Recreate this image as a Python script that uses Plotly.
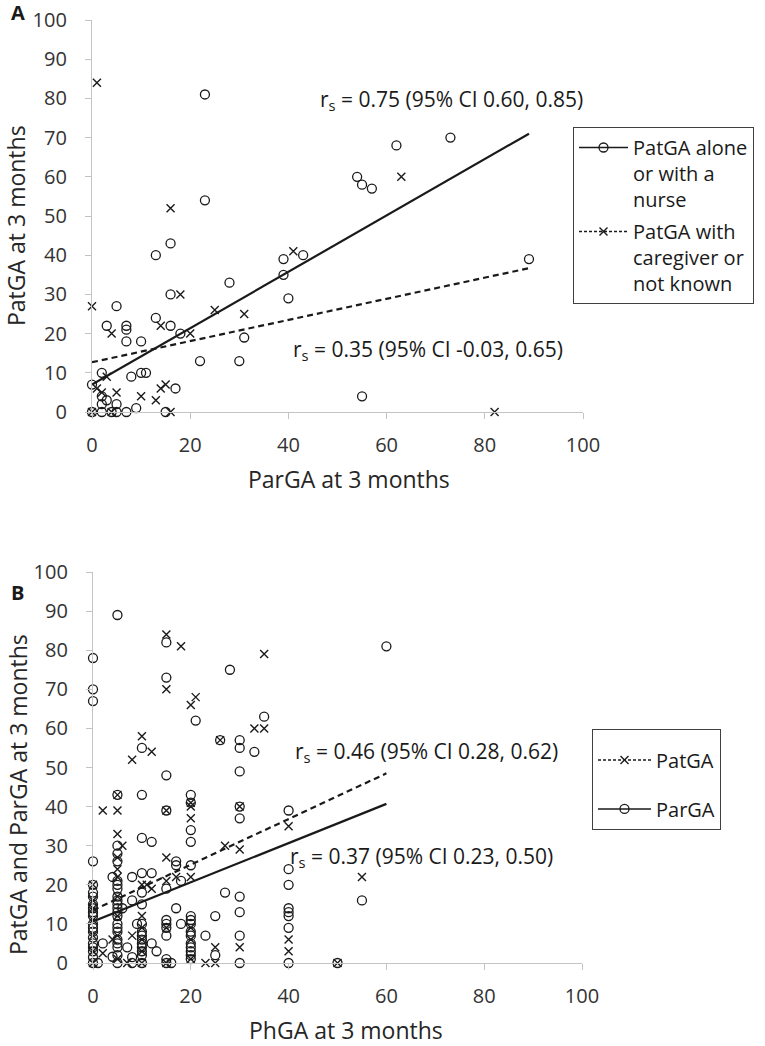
import plotly.graph_objects as go

W, H = 765, 1046

# ---------------- Panel A data (x = ParGA, y = PatGA) ----------------
a_nurse_x = [23, 23, 16, 13, 39, 43, 39, 40, 28, 16, 5, 13, 16, 3, 7, 7, 7, 10, 18, 31,
             22, 30, 2, 8, 10, 11, 0, 2, 2, 3, 5, 17, 9, 0, 2, 4, 5, 7, 15,
             73, 62, 54, 55, 57, 89, 55]
a_nurse_y = [81, 54, 43, 40, 39, 40, 35, 29, 33, 30, 27, 24, 22, 22, 22, 21, 18, 18, 20, 19,
             13, 13, 10, 9, 10, 10, 7, 4, 2, 3, 2, 6, 1, 0, 0, 0, 0, 0, 0,
             70, 68, 60, 58, 57, 39, 4]
a_care_x = [1, 16, 41, 18, 0, 25, 31, 14, 4, 20, 3, 1, 2, 5, 10, 13, 14, 15, 16, 63, 82, 0, 4]
a_care_y = [84, 52, 41, 30, 27, 26, 25, 22, 20, 20, 9, 6, 5, 5, 4, 3, 6, 7, 0, 60, 0, 0, 0]
a_fit_nurse_x = [0, 89]
a_fit_nurse_y = [7, 71]
a_fit_care_x = [0, 89]
a_fit_care_y = [12.7, 36.7]

# ---------------- Panel B data (x = PhGA) ----------------
b_par_x = [0, 0, 0, 0, 0, 0, 0, 0, 0, 0, 0, 0, 0, 0, 0, 0, 0, 0, 0, 0,
           1, 2, 4, 4,
           5, 5, 5, 5, 5, 5, 5, 5, 5, 5, 5, 5, 5, 5, 5, 5, 5, 5, 5, 5, 5, 5,
           6, 7, 8, 8, 8, 8, 9,
           10, 10, 10, 10, 10, 10, 10, 10, 10, 10, 10, 10, 10, 10, 10,
           12, 12, 12, 13,
           15, 15, 15, 15, 15, 15, 15, 15, 15, 15, 15,
           16, 17, 17, 17, 18, 18,
           20, 20, 20, 20, 20, 20, 20, 20, 20, 20, 20, 20, 20, 20, 20,
           21, 23, 25, 25, 26, 27, 28,
           30, 30, 30, 30, 30, 30, 30, 30, 30,
           33, 35,
           40, 40, 40, 40, 40, 40, 40, 40,
           50, 55, 60]
b_par_y = [78, 70, 67, 26, 20, 18, 17, 15, 14, 13, 12, 10, 9, 8, 6.5, 5, 4, 3, 1.5, 0,
           0, 5, 22, 1.6,
           89, 43, 30, 28, 26, 21, 20, 19, 17, 16, 15, 14, 13, 12, 10, 9, 8, 6, 5, 4, 2, 0,
           14, 4, 22, 16, 1.5, 0, 10,
           55, 43, 32, 23, 18, 15, 10, 8, 7, 6, 5, 4, 3, 2, 0,
           31, 23, 5, 3,
           82, 73, 48, 39, 19, 11, 10, 9, 7, 1, 0,
           0, 26, 25, 14, 21, 10,
           43, 41, 34, 31, 25, 12, 11, 10, 8, 7, 5, 4, 3, 2, 1,
           62, 7, 12, 2, 57, 18, 75,
           57, 55, 49, 40, 37, 17, 13, 7, 0,
           54, 63,
           39, 24, 20, 14, 13, 12, 9, 0,
           0, 16, 81]
b_pat_x = [0, 0, 0, 0, 0, 0, 0,
           2, 2, 4,
           5, 5, 5, 5, 5, 5, 5, 5, 5, 5,
           6, 7, 8, 8,
           10, 10, 10, 10, 10, 10, 10,
           11, 12, 12,
           15, 15, 15, 15, 15, 15, 15,
           17, 18,
           20, 20, 20, 20, 20, 20, 20, 20,
           21, 23, 25, 25, 26, 27,
           30, 30, 30,
           33, 35, 35, 40, 40, 40, 50, 55]
b_pat_y = [20, 16, 14, 11, 7, 3, 0,
           39, 2.5, 6,
           43, 39, 33, 27, 24, 22, 17, 12, 7, 1,
           30, 0, 52, 7,
           58, 20, 12, 9, 6, 3, 0,
           20, 54, 19,
           84, 70, 39, 27, 21, 9, 0,
           22, 81,
           66, 41, 40, 37, 22, 9, 6, 1,
           68, 0, 4, 0, 57, 30,
           40, 29, 4,
           60, 79, 60, 35, 6, 3, 0, 22]
b_fit_pat_x = [0, 60]
b_fit_pat_y = [13.5, 48.5]
b_fit_par_x = [0, 60]
b_fit_par_y = [10.6, 40.7]

y_ticks = [0, 10, 20, 30, 40, 50, 60, 70, 80, 90, 100]
x_ticks = [0, 20, 40, 60, 80, 100]

FONT = "Open Sans"
BLACK = "#1a1a1a"
circ = dict(symbol="circle-open", size=9, color=BLACK, line=dict(width=1.3, color=BLACK))
cross = dict(symbol="x-thin-open", size=8, color=BLACK, line=dict(width=1.4, color=BLACK))

fig = go.Figure()

# Panel A
fig.add_trace(go.Scatter(x=a_nurse_x, y=a_nurse_y, mode="markers", marker=circ,
                         xaxis="x", yaxis="y", showlegend=False, cliponaxis=False))
fig.add_trace(go.Scatter(x=a_care_x, y=a_care_y, mode="markers", marker=cross,
                         xaxis="x", yaxis="y", showlegend=False, cliponaxis=False))
fig.add_trace(go.Scatter(x=a_fit_nurse_x, y=a_fit_nurse_y, mode="lines",
                         line=dict(color=BLACK, width=2.2), xaxis="x", yaxis="y", showlegend=False))
fig.add_trace(go.Scatter(x=a_fit_care_x, y=a_fit_care_y, mode="lines",
                         line=dict(color=BLACK, width=2.2, dash="6px,4px"), xaxis="x", yaxis="y",
                         showlegend=False))
# legend entries A
fig.add_trace(go.Scatter(x=[None], y=[None], mode="lines+markers", marker=circ,
                         line=dict(color=BLACK, width=1.5), name="PatGA alone<br>or with a<br>nurse",
                         legend="legend", legendgroup="a1", xaxis="x", yaxis="y"))
fig.add_trace(go.Scatter(x=[None], y=[None], mode="lines+markers", marker=cross,
                         line=dict(color=BLACK, width=1.5, dash="3px,2px"),
                         name="PatGA with<br>caregiver or<br>not known",
                         legend="legend", legendgroup="a2", xaxis="x", yaxis="y"))

# Panel B
fig.add_trace(go.Scatter(x=b_par_x, y=b_par_y, mode="markers", marker=circ,
                         xaxis="x2", yaxis="y2", showlegend=False, cliponaxis=False))
fig.add_trace(go.Scatter(x=b_pat_x, y=b_pat_y, mode="markers", marker=cross,
                         xaxis="x2", yaxis="y2", showlegend=False, cliponaxis=False))
fig.add_trace(go.Scatter(x=b_fit_pat_x, y=b_fit_pat_y, mode="lines",
                         line=dict(color=BLACK, width=2.2, dash="6px,4px"), xaxis="x2", yaxis="y2",
                         showlegend=False))
fig.add_trace(go.Scatter(x=b_fit_par_x, y=b_fit_par_y, mode="lines",
                         line=dict(color=BLACK, width=2.2), xaxis="x2", yaxis="y2", showlegend=False))
fig.add_trace(go.Scatter(x=[None], y=[None], mode="lines+markers", marker=cross,
                         line=dict(color=BLACK, width=1.5, dash="3px,2px"), name="PatGA",
                         legend="legend2", legendgroup="b1", xaxis="x2", yaxis="y2"))
fig.add_trace(go.Scatter(x=[None], y=[None], mode="lines+markers", marker=circ,
                         line=dict(color=BLACK, width=1.5), name="ParGA",
                         legend="legend2", legendgroup="b2", xaxis="x2", yaxis="y2"))


def px_x(p):
    return p / W


def px_y(p):
    return 1 - p / H


axis_common = dict(showgrid=False, zeroline=False, showline=True, linecolor="#c4c4c4", linewidth=1.3,
                   ticks="outside", ticklen=6, tickcolor="#c4c4c4", tickwidth=1.3, automargin=False,
                   tickfont=dict(family=FONT, size=20, color="#333333"), fixedrange=True)

xa = dict(axis_common, range=[0, 100], tickvals=x_ticks, ticklabelstandoff=9)
ya = dict(axis_common, range=[0, 100], tickvals=y_ticks, ticklabelstandoff=14)

fig.update_layout(
    template="none",
    width=W, height=H, margin=dict(l=0, r=0, t=0, b=0, autoexpand=False),
    paper_bgcolor="white", plot_bgcolor="white",
    font=dict(family=FONT, color=BLACK),
    xaxis=dict(xa, domain=[px_x(92), px_x(583)], anchor="y"),
    yaxis=dict(ya, domain=[px_y(412), px_y(20)], anchor="x"),
    xaxis2=dict(xa, domain=[px_x(93), px_x(582)], anchor="y2"),
    yaxis2=dict(ya, domain=[px_y(963), px_y(572)], anchor="x2"),
    legend=dict(x=px_x(573), y=px_y(127), xanchor="left", yanchor="top",
                bordercolor="#404040", borderwidth=1, bgcolor="white", valign="top",
                font=dict(family=FONT, size=20, color=BLACK), itemwidth=49,
                tracegroupgap=3, traceorder="grouped"),
    legend2=dict(x=px_x(592), y=px_y(729), xanchor="left", yanchor="top",
                 bordercolor="#404040", borderwidth=1, bgcolor="white",
                 title=dict(text="&nbsp;", font=dict(size=8)),
                 font=dict(family=FONT, size=20, color=BLACK), itemwidth=53,
                 tracegroupgap=20, traceorder="grouped"),
)

annots = [
    dict(text="<b>A</b>", x=9, y=12, size=20, xa="left", rot=0),
    dict(text="<b>B</b>", x=9, y=592, size=20, xa="left", rot=0),
    dict(text="r<sub>s</sub> = 0.75 (95% CI 0.60, 0.85)", x=318, y=100, size=21, xa="left", rot=0),
    dict(text="r<sub>s</sub> = 0.35 (95% CI -0.03, 0.65)", x=291, y=350, size=21, xa="left", rot=0),
    dict(text="r<sub>s</sub> = 0.46 (95% CI 0.28, 0.62)", x=293, y=752, size=21, xa="left", rot=0),
    dict(text="r<sub>s</sub> = 0.37 (95% CI 0.23, 0.50)", x=288, y=857, size=21, xa="left", rot=0),
    # axis titles
    dict(text="ParGA at 3 months", x=349, y=479, size=23, xa="center", rot=0),
    dict(text="PhGA at 3 months", x=346, y=1030, size=23, xa="center", rot=0),
    dict(text="PatGA at 3 months", x=16, y=226, size=23, xa="center", rot=-90),
    dict(text="PatGA and ParGA at 3 months", x=18, y=795, size=23, xa="center", rot=-90),
]
for a in annots:
    fig.add_annotation(xref="paper", yref="paper", xanchor=a["xa"], yanchor="middle",
                       showarrow=False, text=a["text"], x=px_x(a["x"]), y=px_y(a["y"]),
                       textangle=a["rot"],
                       font=dict(family=FONT, color="#262626" if a["size"] == 23 else BLACK,
                                 size=a["size"]))

fig.write_html("out.html")
